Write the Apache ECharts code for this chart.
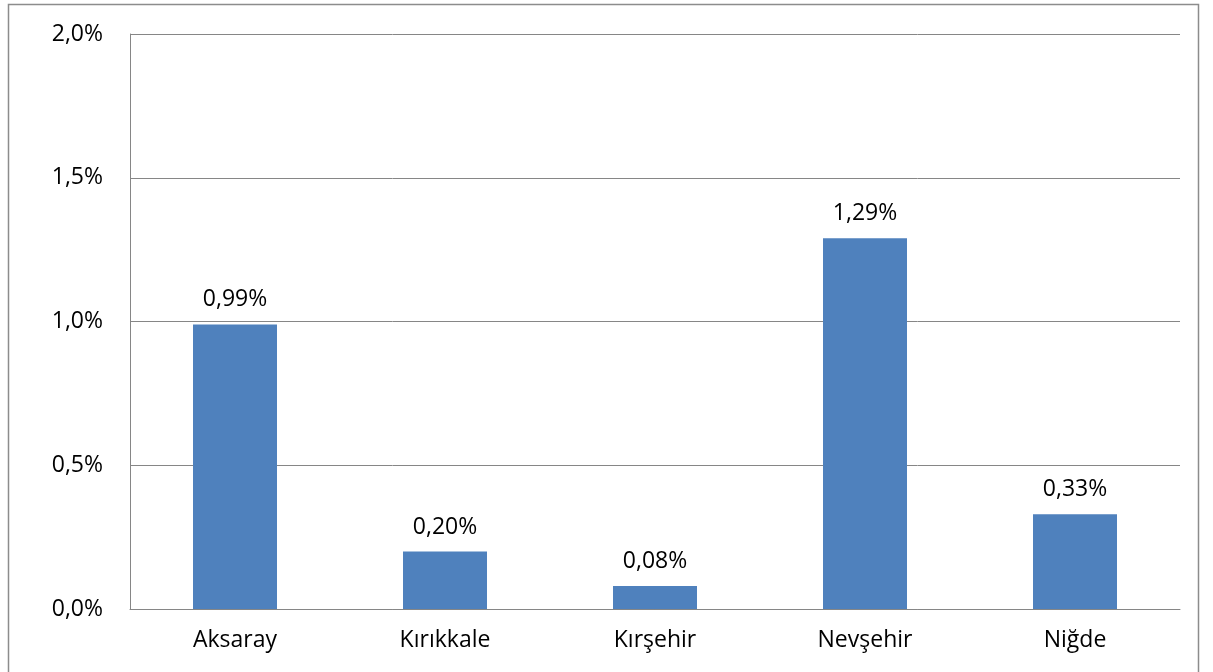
<!DOCTYPE html>
<html>
<head>
<meta charset="utf-8">
<script src="https://cdn.jsdelivr.net/npm/echarts@6/dist/echarts.min.js"></script>
<style>
  html, body { margin: 0; padding: 0; background: #fff; }
  #chart { width: 1213px; height: 672px; }
</style>
</head>
<body>
<div id="chart"></div>
<script>
const categories = ['Aksaray', 'Kırıkkale', 'Kırşehir', 'Nevşehir', 'Niğde']
const values = [0.99, 0.20, 0.08, 1.29, 0.33]
const yMax = 2.0
const yStep = 0.5

const fmt = (v, d) => v.toFixed(d).replace('.', ',') + '%'
const font = '"Open Sans", "Liberation Sans", sans-serif'

const chart = echarts.init(document.getElementById('chart'))
chart.setOption({
  animation: false,
  grid: { left: 130, right: 33, top: 34, bottom: 63 },
  graphic: [{
    type: 'rect',
    shape: { x: 8.5, y: 4.5, width: 1190, height: 700 },
    style: { fill: 'none', stroke: '#8c8c8c', lineWidth: 1.5 },
    silent: true
  }],
  xAxis: {
    type: 'category',
    data: categories,
    axisTick: { show: false },
    axisLine: { lineStyle: { color: '#868686' } },
    axisLabel: { color: '#000', fontSize: 23, fontFamily: font, margin: 20 }
  },
  yAxis: {
    type: 'value',
    min: 0,
    max: yMax,
    interval: yStep,
    axisLine: { show: true, lineStyle: { color: '#868686' } },
    axisTick: { show: false },
    splitLine: { lineStyle: { color: '#868686' } },
    axisLabel: { color: '#000', fontSize: 23, fontFamily: font, margin: 27, formatter: v => fmt(v, 1) }
  },
  series: [{
    type: 'bar',
    data: values,
    barWidth: '40%',
    itemStyle: { color: '#4F81BD' },
    label: {
      show: true,
      position: 'top',
      distance: 13,
      color: '#000',
      fontSize: 23,
      fontFamily: font,
      formatter: p => fmt(p.value, 2)
    }
  }]
})
</script>
</body>
</html>
